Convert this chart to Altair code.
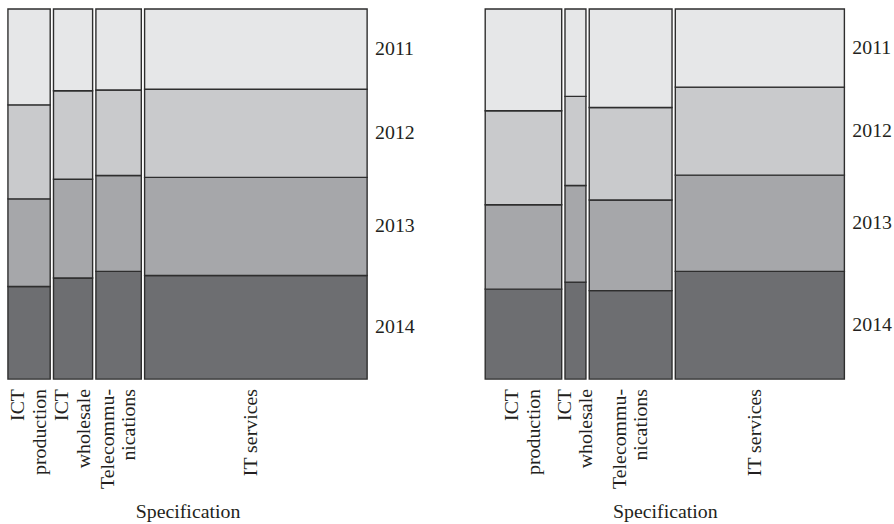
import altair as alt
import pandas as pd

categories = ["ICT\nproduction", "ICT\nwholesale", "Telecommu-\nnications", "IT services"]
years = ["2011", "2012", "2013", "2014"]

# column widths (share of firms, %)
left_widths = [12.1, 11.2, 13.0, 63.7]
right_widths = [21.9, 6.0, 23.7, 48.4]

# share of each year inside each column (%), order 2011..2014
left_shares = [
    [25.9, 25.4, 23.7, 25.0],
    [22.1, 23.9, 26.7, 27.3],
    [21.9, 23.1, 25.9, 29.1],
    [21.7, 23.8, 26.5, 28.0],
]
right_shares = [
    [27.5, 25.4, 22.8, 24.3],
    [23.6, 24.1, 26.1, 26.2],
    [26.6, 25.0, 24.5, 23.9],
    [21.1, 23.8, 26.0, 29.1],
]

fills = ["#e6e7e8", "#c9cacc", "#a6a7aa", "#6d6e71"]
FONT = "Liberation Serif"
FS = 20
TXT = "#231f20"
W, H = 362, 373
GAP = 0.0094  # gap between columns, as share of total width
LH = 22


def build(widths, shares):
    total = sum(widths)
    gap = total * GAP
    rows = []
    x = 0.0
    for ci, (cat, w, sh) in enumerate(zip(categories, widths, shares)):
        s = sum(sh)
        y = 0.0
        # stack from bottom: 2014 at bottom, 2011 at top
        for yi in range(len(years) - 1, -1, -1):
            h = sh[yi] / s
            rows.append(dict(cat=cat, ci=ci, year=years[yi], x=x, x2=x + w,
                             y=y, y2=y + h, xm=x + w / 2, ym=y + h / 2,
                             multi="\n" in cat))
            y += h
        x += w + gap
    df = pd.DataFrame(rows)
    xmax = x - gap
    return df, xmax


def panel(widths, shares):
    df, xmax = build(widths, shares)
    xs = alt.Scale(domain=[0, xmax], nice=False, zero=False)
    ys = alt.Scale(domain=[0, 1], nice=False, zero=False)
    base = alt.Chart(df)
    rects = base.mark_rect(stroke="#2e2e2e", strokeWidth=1.4).encode(
        x=alt.X("x:Q", scale=xs, axis=alt.Axis(title="Specification", labels=False, ticks=False,
                                                domain=False, grid=False, titlePadding=124,
                                                titleFont=FONT, titleFontSize=FS,
                                                titleFontWeight="normal", titleColor=TXT)),
        x2="x2:Q",
        y=alt.Y("y:Q", scale=ys, axis=None),
        y2="y2:Q",
        fill=alt.Fill("year:N", scale=alt.Scale(domain=years, range=fills), legend=None),
    )
    last = df[df.ci == len(categories) - 1]
    year_txt = alt.Chart(last).mark_text(align="left", baseline="middle", dx=8,
                                          font=FONT, fontSize=FS, color=TXT).encode(
        x=alt.X("x2:Q", scale=xs), y=alt.Y("ym:Q", scale=ys), text="year:N")
    bottom = df[df.year == "2014"]
    multi = bottom[bottom.multi]
    single = bottom[~bottom.multi]
    cat_multi = alt.Chart(multi).mark_text(angle=270, align="right", baseline="middle",
                                            dx=-10, dy=-LH / 2,
                                            lineBreak="\n", lineHeight=LH,
                                            font=FONT, fontSize=FS, color=TXT).encode(
        x=alt.X("xm:Q", scale=xs), y=alt.Y("y:Q", scale=ys), text="cat:N")
    cat_single = alt.Chart(single).mark_text(angle=270, align="right", baseline="middle",
                                              dx=-10, dy=-5,
                                              font=FONT, fontSize=FS, color=TXT).encode(
        x=alt.X("xm:Q", scale=xs), y=alt.Y("y:Q", scale=ys), text="cat:N")
    return alt.layer(rects, year_txt, cat_multi, cat_single).properties(width=W, height=H)


chart = alt.hconcat(panel(left_widths, left_shares), panel(right_widths, right_shares),
                    spacing=70).properties(
    padding={"left": 7, "top": 6, "right": 2, "bottom": 2}
).configure_view(strokeWidth=0)

chart.save("out.html", embed_options={"renderer": "svg", "actions": False})
